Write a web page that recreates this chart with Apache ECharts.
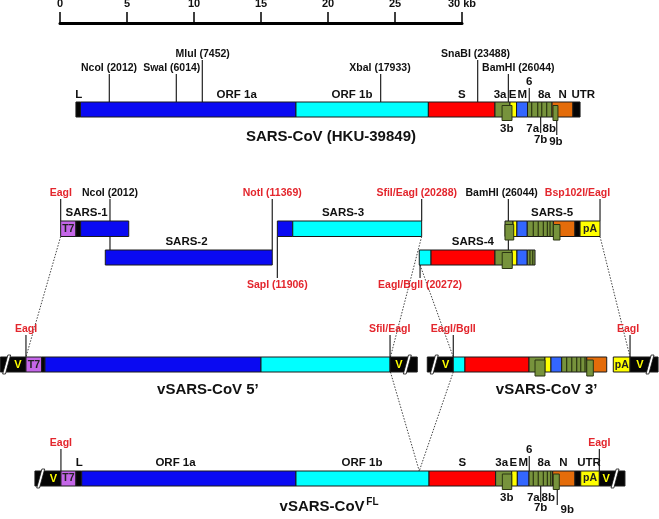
<!DOCTYPE html>
<html><head><meta charset="utf-8">
<script src="https://cdn.jsdelivr.net/npm/echarts@6/dist/echarts.min.js"></script>
<style>html,body{margin:0;padding:0;background:#fff}#c{width:659px;height:519px}</style>
</head><body><div id="c"></div>
<script>
// ---- scale bar (kb) ----
const scaleTicks = [0, 5, 10, 15, 20, 25, 30];

// ---- track rows: [top, bottom] (diagram vertical units) ----
const tracks = {
  hku: [102, 117], sars1: [221, 236.5], sars2: [250, 265], sars3: [221, 236.5],
  sars4: [250, 265], sars5: [221, 236.5], v5: [357, 372], v3: [357, 372], fl: [471, 486]
};

// ---- genome segments: [track, start kb, end kb, feature] ----
const hkuSegments = [
  ['hku', 1.19, 1.53, 'UTR'], ['hku', 1.53, 17.61, 'ORF1a'], ['hku', 17.61, 27.49, 'ORF1b'],
  ['hku', 27.49, 32.46, 'S'], ['hku', 32.46, 33.58, 'ACC'], ['hku', 33.58, 34.07, 'E'],
  ['hku', 34.07, 34.89, 'M'], ['hku', 34.89, 36.72, 'ACC'], ['hku', 36.72, 38.28, 'N'],
  ['hku', 38.28, 38.81, 'UTR']
];
const fragmentSegments = [
  ['sars1', 0.05, 1.19, 'T7'], ['sars1', 1.19, 1.54, 'UTR'], ['sars1', 1.54, 5.13, 'ORF1a'],
  ['sars2', 3.38, 15.84, 'ORF1a'],
  ['sars3', 16.22, 17.37, 'ORF1a'], ['sars3', 17.37, 26.99, 'ORF1b'],
  ['sars4', 26.81, 27.69, 'ORF1b'], ['sars4', 27.69, 32.46, 'S'], ['sars4', 32.46, 33.73, 'ACC'],
  ['sars4', 33.73, 34.10, 'E'], ['sars4', 34.10, 34.87, 'M'], ['sars4', 34.87, 35.45, 'ACC'],
  ['sars5', 33.21, 33.81, 'ACC'], ['sars5', 33.81, 34.10, 'E'], ['sars5', 34.10, 34.87, 'M'],
  ['sars5', 34.87, 36.82, 'ACC'], ['sars5', 36.82, 38.43, 'N'], ['sars5', 38.43, 38.81, 'UTR'],
  ['sars5', 38.81, 40.30, 'pA']
];
const v5Segments = [
  ['v5', -4.45, -2.54, 'VEC'], ['v5', -2.54, -1.37, 'T7'], ['v5', -1.37, -1.12, 'UTR'],
  ['v5', -1.12, 15.0, 'ORF1a'], ['v5', 15.0, 24.63, 'ORF1b'], ['v5', 24.63, 26.66, 'VEC']
];
const v3Segments = [
  ['v3', 27.41, 29.35, 'VEC'], ['v3', 29.35, 30.22, 'ORF1b'], ['v3', 30.22, 35.0, 'S'],
  ['v3', 35.0, 36.19, 'ACC'], ['v3', 36.19, 36.64, 'E'], ['v3', 36.64, 37.44, 'M'],
  ['v3', 37.44, 39.31, 'ACC'], ['v3', 39.31, 40.80, 'N'], ['v3', 41.29, 42.54, 'pA'],
  ['v3', 42.54, 44.63, 'VEC']
];
const flSegments = [
  ['fl', -1.87, 0.07, 'VEC'], ['fl', 0.07, 1.19, 'T7'], ['fl', 1.19, 1.62, 'UTR'],
  ['fl', 1.62, 17.61, 'ORF1a'], ['fl', 17.61, 27.54, 'ORF1b'], ['fl', 27.54, 32.51, 'S'],
  ['fl', 32.51, 33.71, 'ACC'], ['fl', 33.71, 34.13, 'E'], ['fl', 34.13, 35.0, 'M'],
  ['fl', 35.0, 36.77, 'ACC'], ['fl', 36.77, 38.43, 'N'], ['fl', 38.43, 38.86, 'UTR'],
  ['fl', 38.86, 40.25, 'pA'], ['fl', 40.25, 42.16, 'VEC']
];

// ---- raised ORF boxes (3b, 9b): [track, start kb, end kb, top, bottom] ----
const orfBoxes = [
  ['hku', 32.99, 33.73, 105.5, 120.5], ['hku', 36.79, 37.16, 105.5, 120.5],
  ['sars4', 33.0, 33.75, 252.5, 268.5],
  ['sars5', 33.21, 33.86, 224.5, 240], ['sars5', 36.82, 37.31, 224.5, 240],
  ['v3', 35.45, 36.19, 360, 376], ['v3', 39.31, 39.80, 360, 376],
  ['fl', 33.01, 33.71, 474, 489.5], ['fl', 36.81, 37.26, 474, 489.5]
];

// ---- gene boundaries inside the accessory block: [track, kb] ----
const accessoryDividers = [
  ['hku', 35.20], ['hku', 35.65], ['hku', 35.95], ['hku', 36.32],
  ['sars4', 35.07], ['sars4', 35.28],
  ['sars5', 35.32], ['sars5', 35.69], ['sars5', 36.07], ['sars5', 36.37], ['sars5', 36.57],
  ['v3', 37.81], ['v3', 38.19], ['v3', 38.56], ['v3', 38.86], ['v3', 39.18],
  ['fl', 35.32], ['fl', 35.69], ['fl', 36.07], ['fl', 36.37], ['fl', 36.62]
];

// ---- vector break marks: [track, kb] ----
const breakMarks = [['v5', -3.98], ['v5', 25.92], ['v3', 27.93], ['v3', 44.03], ['fl', -1.44], ['fl', 41.42]];

// ---- site pointer lines: [kb, from, to] ----
const siteLines = [
  [3.68, 74, 102], [8.68, 74, 102], [10.62, 60, 102], [23.93, 74, 102], [31.17, 60, 102],
  [33.46, 74, 105.5], [35.02, 88, 102], [35.87, 117, 133], [37.07, 120.5, 135],
  [0.05, 199, 221], [3.73, 199, 250], [15.84, 199, 250], [16.22, 236.5, 278],
  [26.99, 199, 221], [26.87, 265, 278], [33.46, 199, 252.5], [40.30, 199, 221],
  [-2.54, 335, 357], [24.63, 335, 357], [29.35, 335, 357], [42.54, 335, 357],
  [0.07, 449, 471], [40.25, 449, 471], [35.02, 456, 471], [35.87, 486, 502], [37.11, 489.5, 505]
];

// ---- dotted assembly guides: [kb1, y1, kb2, y2] ----
const assemblyGuides = [
  [0.05, 236.5, -2.54, 357], [26.99, 236.5, 24.66, 357], [26.87, 265, 29.35, 357],
  [40.30, 236.5, 42.54, 357], [24.66, 372, 26.81, 471], [29.35, 372, 26.81, 471]
];

// ---- text labels: [text, kb, y, style] ----
const hkuLabels = [
  ['L', 1.40, 95, 'lab'], ['ORF 1a', 13.19, 95, 'lab'], ['ORF 1b', 21.79, 95, 'lab'],
  ['S', 29.98, 95, 'lab'], ['3a', 32.84, 95, 'lab'], ['E', 33.78, 95, 'lab'],
  ['M', 34.50, 95, 'lab'], ['6', 35.02, 82, 'lab'], ['8a', 36.14, 95, 'lab'],
  ['N', 37.51, 95, 'lab'], ['UTR', 39.05, 95, 'lab'],
  ['3b', 33.34, 128.5, 'lab'], ['7a', 35.28, 128.5, 'lab'], ['8b', 36.51, 128.5, 'lab'],
  ['7b', 35.87, 139.5, 'lab'], ['9b', 37.01, 142, 'lab'],
  ['NcoI (2012)', 3.66, 68, 'enz'], ['SwaI (6014)', 8.34, 68, 'enz'], ['MluI (7452)', 10.65, 54, 'enz'],
  ['XbaI (17933)', 23.88, 68, 'enz'], ['SnaBI (23488)', 31.01, 54, 'enz'], ['BamHI (26044)', 34.20, 68, 'enz'],
  ['SARS-CoV (HKU-39849)', 20.22, 137, 'title']
];
const fragmentLabels = [
  ['EagI', 0.06, 193, 'red'], ['NcoI (2012)', 3.73, 193, 'enz'], ['NotI (11369)', 15.84, 193, 'red'],
  ['SfiI/EagI (20288)', 26.62, 193, 'red'], ['BamHI (26044)', 32.96, 193, 'enz'],
  ['Bsp102I/EagI', 38.62, 193, 'red'],
  ['SARS-1', 1.99, 213, 'lab'], ['SARS-3', 21.12, 213, 'lab'], ['SARS-5', 36.72, 213, 'lab'],
  ['SARS-2', 9.44, 241.5, 'lab'], ['SARS-4', 30.81, 242, 'lab'],
  ['SapI (11906)', 16.22, 285, 'red'], ['EagI/BglI (20272)', 26.87, 285, 'red'],
  ['T7', 0.62, 229, 'in'], ['pA', 39.55, 229, 'in']
];
const vectorLabels = [
  ['EagI', -2.54, 329, 'red'], ['SfiI/EagI', 24.60, 329, 'red'],
  ['V', -3.14, 365, 'v'], ['T7', -1.95, 365, 'in'], ['V', 25.30, 365, 'v'],
  ['vSARS-CoV 5\u2019', 11.04, 390, 'title'],
  ['EagI/BglI', 29.35, 329, 'red'], ['EagI', 42.39, 329, 'red'],
  ['V', 28.78, 365, 'v'], ['pA', 41.92, 365, 'in'], ['V', 43.28, 365, 'v'],
  ['vSARS-CoV 3\u2019', 36.32, 390, 'title']
];
const flLabels = [
  ['EagI', 0.07, 443, 'red'], ['L', 1.44, 463, 'lab'], ['ORF 1a', 8.62, 463, 'lab'],
  ['ORF 1b', 22.54, 463, 'lab'], ['S', 30.02, 463, 'lab'], ['3a', 32.96, 463, 'lab'],
  ['E', 33.83, 463, 'lab'], ['M', 34.57, 463, 'lab'], ['6', 35.02, 450, 'lab'],
  ['8a', 36.12, 463, 'lab'], ['N', 37.56, 463, 'lab'], ['UTR', 39.48, 463, 'lab'],
  ['EagI', 40.25, 443, 'red'],
  ['V', -0.5, 478.5, 'v'], ['T7', 0.63, 478.5, 'in'], ['pA', 39.55, 478.5, 'in'], ['V', 40.75, 478.5, 'v'],
  ['3b', 33.34, 498, 'lab'], ['7a', 35.32, 498, 'lab'], ['8b', 36.44, 498, 'lab'],
  ['7b', 35.87, 507.5, 'lab'], ['9b', 37.86, 509.5, 'lab'],
  ['vSARS-CoV', 22.73, 507, 'titleR'], ['FL', 22.86, 502.5, 'sup']
];

// ---- styles ----
const featureColors = {
  ORF1a: '#0a0af2', ORF1b: '#00ffff', S: '#ff0000', ACC: '#77933c', E: '#ffff00',
  M: '#3366ff', N: '#e46c0a', UTR: '#050505', T7: '#c466e8', pA: '#ffff00', VEC: '#050505'
};
const FONT = '"Liberation Sans", Arial, sans-serif';
const textStyles = {
  lab: { size: 11.5, color: '#111', align: 'center' },
  enz: { size: 10.5, color: '#111', align: 'center' },
  red: { size: 10.5, color: '#e3262d', align: 'center' },
  title: { size: 15, color: '#111', align: 'center' },
  titleR: { size: 15, color: '#111', align: 'right' },
  sup: { size: 10, color: '#111', align: 'left' },
  v: { size: 11, color: '#ffff00', align: 'center' },
  in: { size: 10.5, color: '#222', align: 'center' }
};

const allSegments = [].concat(hkuSegments, fragmentSegments, v5Segments, v3Segments, flSegments);
const allLabels = [].concat(hkuLabels, fragmentLabels, vectorLabels, flLabels);

const chart = echarts.init(document.getElementById('c'), null, { renderer: 'canvas' });

function base(data, renderItem, z) {
  return {
    type: 'custom', coordinateSystem: 'cartesian2d', xAxisIndex: 1, yAxisIndex: 1,
    clip: false, silent: true, animation: false, z: z, data: data, renderItem: renderItem
  };
}

const option = {
  backgroundColor: '#ffffff',
  animation: false,
  grid: [
    { left: 60, width: 402, top: 23, height: 10, outerBoundsMode: 'none', containLabel: false },
    { left: 60, width: 402, top: 0, bottom: 0, outerBoundsMode: 'none', containLabel: false }
  ],
  xAxis: [
    {
      gridIndex: 0, type: 'value', position: 'top', min: 0, max: 30, interval: 5,
      axisLine: { show: true, onZero: false, lineStyle: { color: '#000', width: 3 } },
      axisTick: { show: true, length: 11, lineStyle: { color: '#000', width: 1.5 } },
      axisLabel: {
        show: true, margin: 14, color: '#111', fontWeight: 'bold', fontSize: 11, fontFamily: FONT,
        formatter: v => (scaleTicks.indexOf(v) === scaleTicks.length - 1 ? v + ' kb' : String(v))
      },
      splitLine: { show: false }
    },
    { gridIndex: 1, type: 'value', min: 0, max: 30, show: false }
  ],
  yAxis: [
    { gridIndex: 0, type: 'value', min: 0, max: 1, show: false },
    { gridIndex: 1, type: 'value', min: 0, max: 519, inverse: true, show: false }
  ],
  series: [
    // dotted assembly guides
    base(assemblyGuides.map(g => g.slice()), (p, api) => {
      const a = api.coord([api.value(0), api.value(1)]);
      const b = api.coord([api.value(2), api.value(3)]);
      return { type: 'line', shape: { x1: a[0], y1: a[1], x2: b[0], y2: b[1] },
        style: { stroke: '#444', lineWidth: 1, lineDash: [1.5, 1.5] } };
    }, 1),
    // site pointer lines
    base(siteLines.map(s => s.slice()), (p, api) => {
      const a = api.coord([api.value(0), api.value(1)]);
      const b = api.coord([api.value(0), api.value(2)]);
      return { type: 'line', shape: { x1: a[0], y1: a[1], x2: b[0], y2: b[1] },
        style: { stroke: '#222', lineWidth: 1.2 } };
    }, 2),
    // genome segments
    base(allSegments.map(s => [s[1], s[2], tracks[s[0]][0], tracks[s[0]][1]]), (p, api) => {
      const f = allSegments[p.dataIndex][3];
      const a = api.coord([api.value(0), api.value(2)]);
      const b = api.coord([api.value(1), api.value(3)]);
      return { type: 'rect', shape: { x: a[0], y: a[1], width: b[0] - a[0], height: b[1] - a[1] },
        style: { fill: featureColors[f], stroke: '#1a1a1a', lineWidth: 1 } };
    }, 3),
    // accessory gene dividers
    base(accessoryDividers.map(d => [d[1], tracks[d[0]][0], tracks[d[0]][1]]), (p, api) => {
      const a = api.coord([api.value(0), api.value(1)]);
      const b = api.coord([api.value(0), api.value(2)]);
      return { type: 'line', shape: { x1: a[0], y1: a[1], x2: b[0], y2: b[1] },
        style: { stroke: '#2b3512', lineWidth: 1.2 } };
    }, 4),
    // raised ORF boxes
    base(orfBoxes.map(o => [o[1], o[2], o[3], o[4]]), (p, api) => {
      const a = api.coord([api.value(0), api.value(2)]);
      const b = api.coord([api.value(1), api.value(3)]);
      return { type: 'rect', shape: { x: a[0], y: a[1], width: b[0] - a[0], height: b[1] - a[1] },
        style: { fill: featureColors.ACC, stroke: '#2b3512', lineWidth: 1 } };
    }, 5),
    // vector break marks
    base(breakMarks.map(m => [m[1], tracks[m[0]][0], tracks[m[0]][1]]), (p, api) => {
      const t = api.coord([api.value(0), api.value(1)]);
      const b = api.coord([api.value(0), api.value(2)]);
      const cx = t[0], top = t[1] - 2, bot = b[1] + 2;
      return { type: 'polygon', shape: { points: [[cx - 4, bot], [cx - 1.2, bot], [cx + 4, top], [cx + 1.2, top]] },
        style: { fill: '#ffffff', stroke: '#111', lineWidth: 0.8 } };
    }, 6),
    // text labels
    base(allLabels.map(l => [l[1], l[2]]), (p, api) => {
      const l = allLabels[p.dataIndex];
      const s = textStyles[l[3]];
      const c = api.coord([api.value(0), api.value(1)]);
      return { type: 'text', x: c[0], y: c[1],
        style: { text: l[0], fill: s.color, fontSize: s.size, fontWeight: 'bold', fontFamily: FONT,
          align: s.align, verticalAlign: 'middle' } };
    }, 7)
  ]
};
chart.setOption(option);
</script>
</body></html>
